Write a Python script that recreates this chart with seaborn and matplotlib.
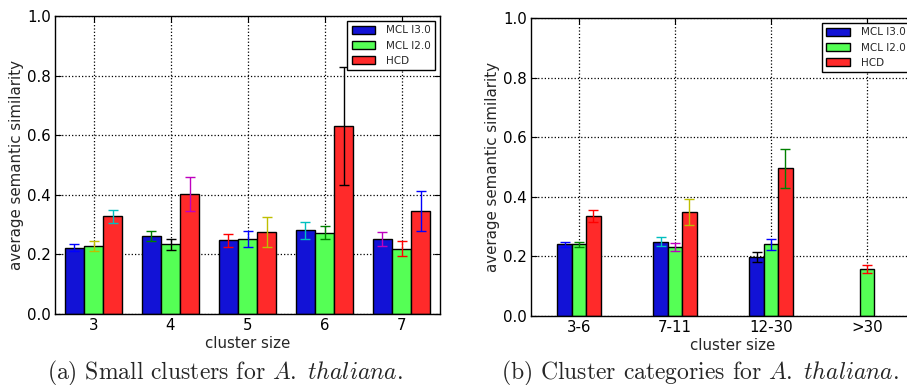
import matplotlib
matplotlib.use("Agg")
import matplotlib.pyplot as plt
import numpy as np
import pandas as pd
import seaborn as sns

# ---------------- data ----------------
series = ["MCL I3.0", "MCL I2.0", "HCD"]

sizes_a = ["3", "4", "5", "6", "7"]
mcl3_a = [0.222, 0.262, 0.247, 0.281, 0.251]
mcl3_a_err = [0.012, 0.018, 0.022, 0.028, 0.024]
mcl2_a = [0.228, 0.234, 0.253, 0.273, 0.219]
mcl2_a_err = [0.016, 0.019, 0.027, 0.022, 0.026]
hcd_a = [0.328, 0.402, 0.274, 0.631, 0.346]
hcd_a_err = [0.022, 0.058, 0.050, 0.197, 0.068]

cats_b = ["3-6", "7-11", "12-30", ">30"]
mcl3_b = [0.241, 0.250, 0.198, None]
mcl3_b_err = [0.009, 0.016, 0.017, None]
mcl2_b = [0.241, 0.232, 0.241, 0.157]
mcl2_b_err = [0.009, 0.013, 0.018, 0.013]
hcd_b = [0.335, 0.349, 0.495, None]
hcd_b_err = [0.020, 0.044, 0.065, None]

# ---------------- style ----------------
bar_colors = ["#1212d6", "#55ff55", "#ff2a2a"]
cb, cg, cr, cc, cm, cy, ck = "#0000ff", "#008000", "#ff0000", "#00bfbf", "#bf00bf", "#bfbf00", "#000000"
err_colors_a = [[cb, cg, cr, cc, cm], [cy, ck, cb, cg, cr], [cc, cm, cy, ck, cb]]
err_colors_b = [[cb, cc, ck, None], [cg, cm, cb, cr], [cr, cy, cg, None]]

sns.set_theme(style="white")
plt.rcParams["font.family"] = ["DejaVu Sans"]


def make_df(cats, vals, errs):
    rows = []
    for s, v, e in zip(series, vals, errs):
        for c, vv, ee in zip(cats, v, e):
            if vv is not None:
                rows.append({"size": c, "series": s, "value": vv, "err": ee})
    return pd.DataFrame(rows)


df_a = make_df(sizes_a, [mcl3_a, mcl2_a, hcd_a], [mcl3_a_err, mcl2_a_err, hcd_a_err])
df_b = make_df(cats_b, [mcl3_b, mcl2_b, hcd_b], [mcl3_b_err, mcl2_b_err, hcd_b_err])

W, H = 907, 385
fig = plt.figure(figsize=(W / 100, H / 100), dpi=100)
ax_a = fig.add_axes([55 / W, 1 - 314 / H, 385 / W, 298 / H])
ax_b = fig.add_axes([531 / W, 1 - 316 / H, 384 / W, 298 / H])


def draw(ax, df, cats, err_colors, width, xgrid, xlab_x):
    sns.barplot(data=df, x="size", y="value", hue="series", order=cats,
                hue_order=series, palette=bar_colors, width=width, dodge=True,
                errorbar=None, edgecolor="black", linewidth=1.0, saturation=1,
                legend=False, ax=ax, zorder=2)
    bar_conts = list(ax.containers)
    for si, cont in enumerate(bar_conts):
        s = series[si]
        sub = df[df["series"] == s].set_index("size")
        for bar in cont:
            xc = bar.get_x() + bar.get_width() / 2
            ci = int(round(xc))
            c = cats[ci]
            ax.errorbar(xc, sub.loc[c, "value"], yerr=sub.loc[c, "err"],
                        fmt="none", ecolor=err_colors[si][ci], elinewidth=1.0,
                        capsize=3.5, capthick=1.0, zorder=3)
    ax.set_ylim(0, 1.0)
    ax.set_xlim(-0.5, len(cats) - 0.5)
    ax.set_yticks(np.arange(0, 1.01, 0.2))
    ax.set_yticklabels([f"{t:.1f}" for t in np.arange(0, 1.01, 0.2)])
    ax.set_xticks(range(len(cats)))
    ax.set_xticklabels(cats)
    ax.tick_params(axis="both", labelsize=10.8, colors="black", direction="in",
                   length=4, width=0.8, top=True, right=True, bottom=True, left=True,
                   pad=3)
    ax.set_xlabel("cluster size", fontsize=10.8)
    ax.xaxis.set_label_coords(xlab_x, -0.075)
    ax.set_ylabel("average semantic similarity", fontsize=10.8, labelpad=2)
    ax.grid(axis="y", linestyle=":", color="black", linewidth=0.9)
    ax.grid(axis="x", visible=xgrid, linestyle=":", color="black", linewidth=0.9)
    ax.set_axisbelow(True)
    for sp in ax.spines.values():
        sp.set_color("black")
        sp.set_linewidth(1.0)
    handles = [plt.Rectangle((0, 0), 1, 1, facecolor=col, edgecolor="black", linewidth=1)
               for col in bar_colors]
    leg = ax.legend(handles, series, loc="upper right", fontsize=7.5, frameon=True,
                    fancybox=False, edgecolor="black", framealpha=1,
                    handlelength=2.3, handleheight=0.75, labelspacing=0.5,
                    borderaxespad=0.5, borderpad=0.4, handletextpad=1.0)
    leg.get_frame().set_linewidth(1.0)


draw(ax_a, df_a, sizes_a, err_colors_a, 0.75, True, 0.5)
draw(ax_b, df_b, cats_b, err_colors_b, 0.45, False, 0.525)

fig.text(225 / W, 1 - 379 / H, r"(a) Small clusters for $\mathit{A.\ thaliana.}$",
         ha="center", va="baseline", fontsize=17, family="cmr10", math_fontfamily="cm")
fig.text(700 / W, 1 - 379 / H, r"(b) Cluster categories for $\mathit{A.\ thaliana.}$",
         ha="center", va="baseline", fontsize=17, family="cmr10", math_fontfamily="cm")

fig.savefig("out.png", dpi=100)
